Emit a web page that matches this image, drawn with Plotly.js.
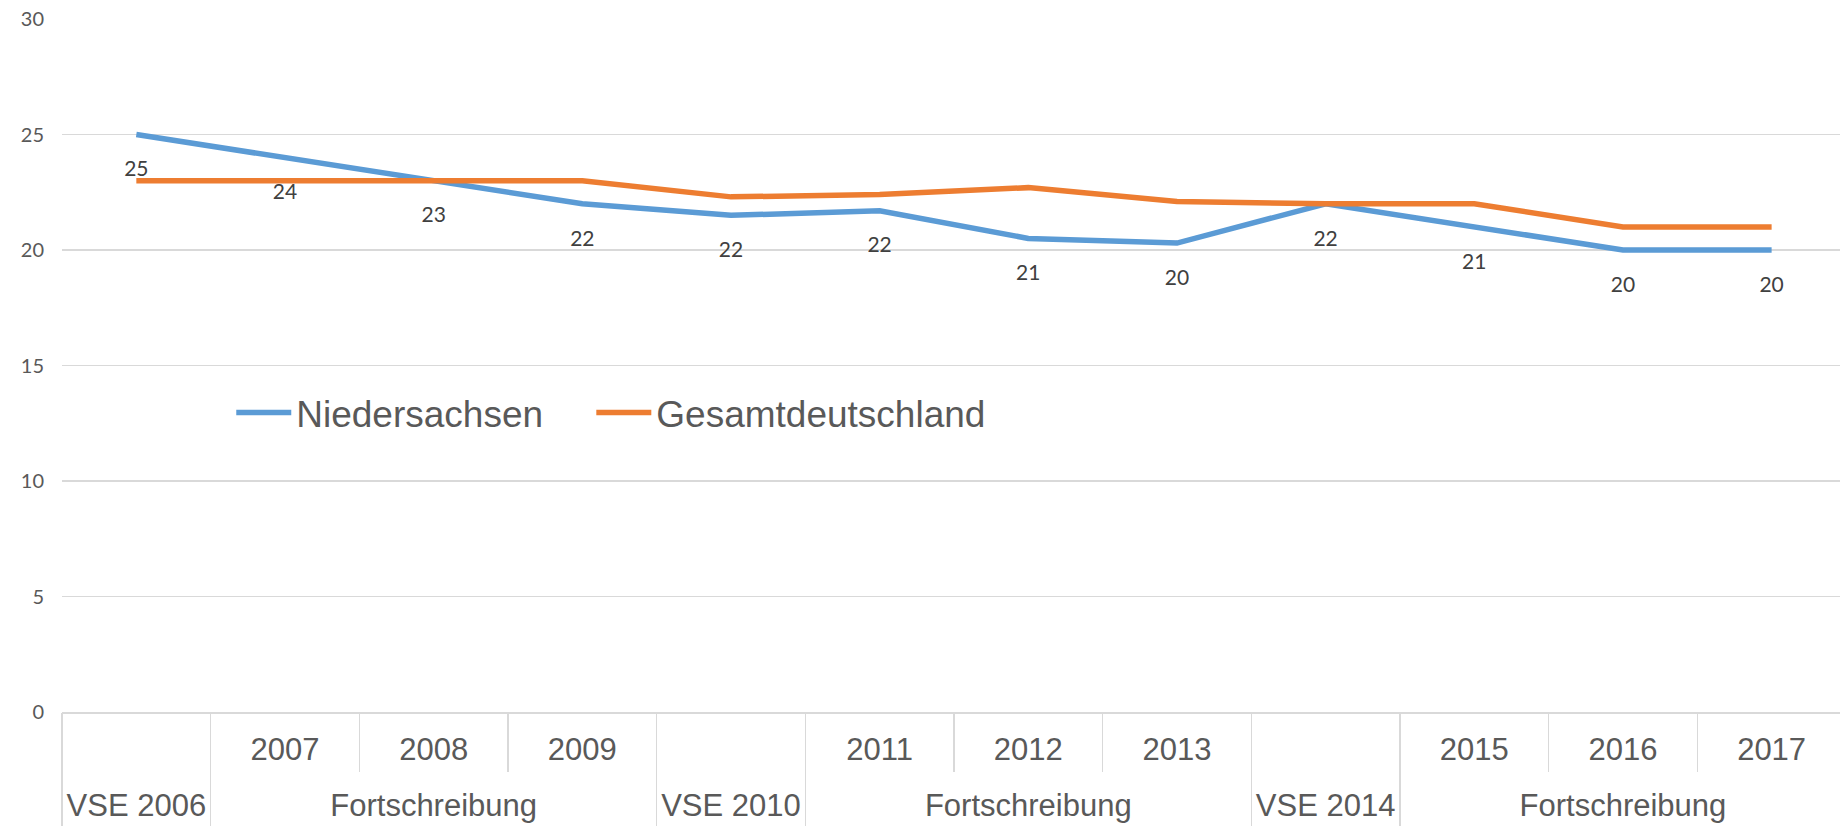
<!DOCTYPE html>
<html>
<head>
<meta charset="utf-8">
<script src="https://cdn.plot.ly/plotly-3.0.1.min.js"></script>
<style>
  html, body { margin: 0; padding: 0; background: #ffffff; overflow: hidden; }
  #chart { width: 1840px; height: 826px; }
</style>
</head>
<body>
<div id="chart"></div>
<script>
// Categories: one per year; outer level = data source, inner level = year label
const years = ["2006", "2007", "2008", "2009", "2010", "2011", "2012", "2013", "2014", "2015", "2016", "2017"];
const yearLabels = ["", "2007", "2008", "2009", "", "2011", "2012", "2013", "", "2015", "2016", "2017"];
const periods = [
  "VSE 2006",
  "Fortschreibung", "Fortschreibung", "Fortschreibung",
  "VSE 2010",
  "Fortschreibung", "Fortschreibung", "Fortschreibung",
  "VSE 2014",
  "Fortschreibung", "Fortschreibung", "Fortschreibung"
];

const niedersachsen = [25, 24, 23, 22, 21.5, 21.7, 20.5, 20.3, 22, 21, 20, 20];
const gesamtdeutschland = [23, 23, 23, 23, 22.3, 22.4, 22.7, 22.1, 22, 22, 21, 21];

const seriesNames = ["Niedersachsen", "Gesamtdeutschland"];
const yTicks = [0, 5, 10, 15, 20, 25, 30];

// Runs of consecutive equal periods -> group label centres and boundaries (category index units)
const groupCentres = [], groupLabels = [], groupBounds = [];
for (let i = 0; i < periods.length; ) {
  let j = i;
  while (j + 1 < periods.length && periods[j + 1] === periods[i]) j++;
  groupCentres.push((i + j) / 2);
  groupLabels.push(periods[i]);
  groupBounds.push(i - 0.5);
  i = j + 1;
}
groupBounds.push(periods.length - 0.5);

const xRange = [-0.5, years.length - 0.54];
const gridGrey = "#d9d9d9";
const labelFont = { family: "'Liberation Sans', Arial, sans-serif", size: 31, color: "#595959" };
const legendFont = { family: "'Liberation Sans', Arial, sans-serif", size: 37, color: "#595959" };

const traces = [
  {
    type: "scatter",
    mode: "lines+markers+text",
    name: seriesNames[0],
    legend: "legend",
    x: years,
    y: niedersachsen,
    line: { color: "#5B9BD5", width: 5.5 },
    marker: { size: 40, color: "rgba(0,0,0,0)" },
    texttemplate: "%{y:.0f}",
    textposition: "bottom center",
    textfont: { family: "Lato, 'Open Sans', sans-serif", size: 21, color: "#404040" },
    cliponaxis: false
  },
  {
    type: "scatter",
    mode: "lines",
    name: seriesNames[1],
    legend: "legend2",
    x: years,
    y: gesamtdeutschland,
    line: { color: "#ED7D31", width: 5.5 }
  },
  // empty carriers so the overlaid group-label / divider axes get drawn
  { type: "scatter", mode: "lines", x: [], y: [], xaxis: "x2", yaxis: "y", showlegend: false, hoverinfo: "skip" },
  { type: "scatter", mode: "lines", x: [], y: [], xaxis: "x3", yaxis: "y", showlegend: false, hoverinfo: "skip" }
];

const legendBase = {
  orientation: "h",
  xanchor: "left",
  y: 0.4315,
  yanchor: "middle",
  font: legendFont,
  bgcolor: "rgba(0,0,0,0)",
  itemwidth: 55
};

const layout = {
  width: 1840,
  height: 826,
  margin: { l: 62, r: 0, t: 19, b: 114, pad: 0 },
  paper_bgcolor: "#ffffff",
  plot_bgcolor: "#ffffff",
  showlegend: true,
  legend: Object.assign({}, legendBase, { x: 0.0952 }),
  legend2: Object.assign({}, legendBase, { x: 0.2977 }),
  xaxis: {
    type: "category",
    categoryorder: "array",
    categoryarray: years,
    range: xRange,
    tickmode: "array",
    tickvals: years,
    ticktext: yearLabels,
    showgrid: false,
    zeroline: false,
    showline: true,
    linecolor: gridGrey,
    linewidth: 1.5,
    ticks: "outside",
    tickson: "boundaries",
    ticklen: 58,
    tickcolor: gridGrey,
    tickwidth: 1.5,
    tickfont: labelFont,
    ticklabelstandoff: 9,
    automargin: false
  },
  xaxis2: {
    overlaying: "x",
    anchor: "y",
    side: "bottom",
    type: "linear",
    range: xRange,
    tickmode: "array",
    tickvals: groupCentres,
    ticktext: groupLabels,
    ticks: "",
    showgrid: false,
    zeroline: false,
    showline: false,
    tickfont: labelFont,
    ticklabelstandoff: 72,
    automargin: false
  },
  xaxis3: {
    overlaying: "x",
    anchor: "y",
    side: "bottom",
    type: "linear",
    range: xRange,
    tickmode: "array",
    tickvals: groupBounds,
    showticklabels: false,
    ticks: "outside",
    ticklen: 115,
    tickcolor: gridGrey,
    tickwidth: 1.5,
    showgrid: false,
    zeroline: false,
    showline: false,
    automargin: false
  },
  yaxis: {
    range: [0, 30],
    tickvals: yTicks,
    ticktext: yTicks.map(String),
    showgrid: true,
    gridcolor: gridGrey,
    gridwidth: 1.5,
    zeroline: false,
    showline: false,
    ticks: "",
    tickfont: { family: "Lato, 'Open Sans', sans-serif", size: 20, color: "#595959" },
    ticklabelstandoff: 17,
    automargin: false
  },
  hovermode: false
};

Plotly.newPlot("chart", traces, layout, { staticPlot: true, displayModeBar: false });
</script>
</body>
</html>
